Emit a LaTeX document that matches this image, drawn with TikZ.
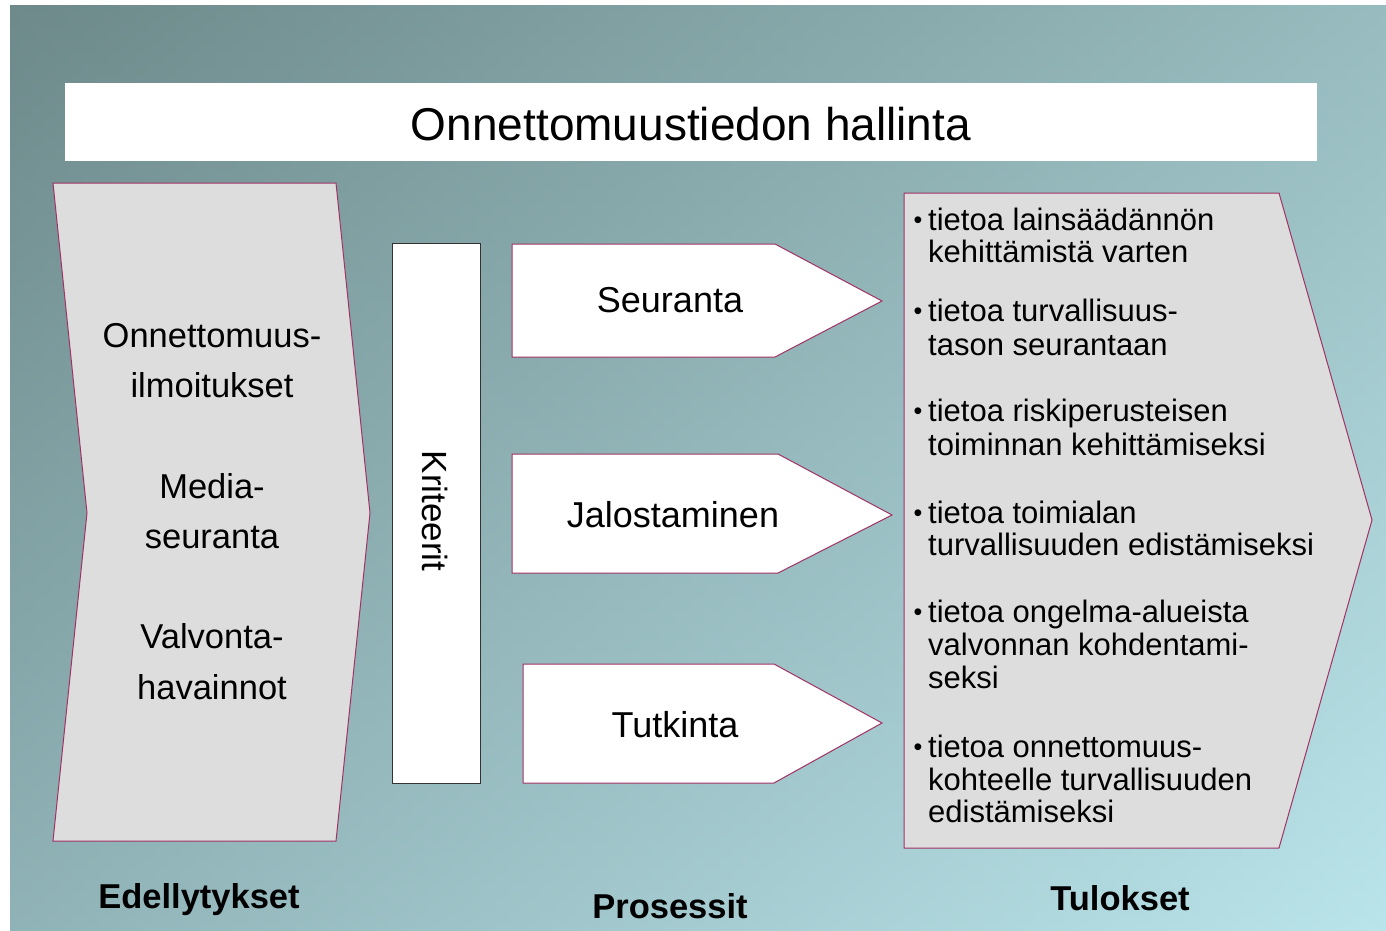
\documentclass[tikz,border=0pt]{standalone}
\usepackage{fontspec}
\setmainfont{Liberation Sans}
\definecolor{bgA}{RGB}{110,138,139}
\definecolor{bgH}{RGB}{194,238,243}
\definecolor{bgV}{RGB}{178,220,227}
\definecolor{chevgray}{RGB}{221,221,221}
\definecolor{edgepurple}{RGB}{160,50,100}
\begin{document}
\begin{tikzpicture}[x=1pt,y=-1pt,
  chev/.style={fill=chevgray, draw=edgepurple, line width=1pt, line join=miter},
  proc/.style={fill=white, draw=edgepurple, line width=1pt},
  lefttxt/.style={anchor=base, inner sep=0pt, font=\fontsize{34.5}{40}\selectfont},
  proctxt/.style={anchor=base, inner sep=0pt, font=\fontsize{36}{40}\selectfont},
  listtxt/.style={anchor=base west, inner sep=0pt, font=\fontsize{31}{33}\selectfont},
  bul/.style={anchor=base, inner sep=0pt, font=\fontsize{25}{25}\selectfont},
  foot/.style={anchor=base, inner sep=0pt, font=\fontsize{34.5}{40}\selectfont\bfseries}]
\useasboundingbox (0,0) rectangle (1386,931);
\fill[white] (0,0) rectangle (1386,931);
\shade[left color=bgA, right color=bgH] (10,6) rectangle (1386,931);
\shade[top color=bgA, bottom color=bgV, opacity=0.5] (10,6) rectangle (1386,931);
% title
\node[fill=white, inner sep=0pt, minimum width=1252pt, minimum height=78pt] (titlebox) at (691,122) {};
\node[anchor=base, inner sep=0pt, font=\fontsize{46}{50}\selectfont] (title) at (691,140) {Onnettomuustiedon hallinta};
% left chevron
\draw[chev] (53,183) -- (336,183) -- (370,513) -- (336,841) -- (53,841) -- (87,513) -- cycle;
\node[lefttxt] (l1) at (212,347) {Onnettomuus-};
\node[lefttxt] (l2) at (212,397) {ilmoitukset};
\node[lefttxt] (l3) at (212,498) {Media-};
\node[lefttxt] (l4) at (212,548) {seuranta};
\node[lefttxt] (l5) at (212,648) {Valvonta-};
\node[lefttxt] (l6) at (212,699) {havainnot};
% criteria bar
\draw[fill=white, draw=black!80, line width=1pt] (392,243) rectangle (480,783);
\node[rotate=-90, inner sep=0pt, font=\fontsize{35}{40}\selectfont] (krit) at (435,511) {Kriteerit};
% process arrows
\draw[proc] (512,244) -- (775,244) -- (882,301) -- (775,357) -- (512,357) -- cycle;
\node[proctxt] (seur) at (670,312) {Seuranta};
\draw[proc] (512,454) -- (778,454) -- (892,515) -- (778,573) -- (512,573) -- cycle;
\node[proctxt] (jalo) at (673,527) {Jalostaminen};
\draw[proc] (523,664) -- (774,664) -- (882,723) -- (774,783) -- (523,783) -- cycle;
\node[proctxt] (tutk) at (675,737) {Tutkinta};
% right chevron
\draw[chev] (904,193) -- (1279,193) -- (1372,520) -- (1279,848) -- (904,848) -- cycle;
\foreach \yy/\ww in {230/tietoa lainsäädännön, 262/kehittämistä varten,
  321/tietoa turvallisuus-, 355/tason seurantaan,
  421/tietoa riskiperusteisen, 455/toiminnan kehittämiseksi,
  523/tietoa toimialan, 555/turvallisuuden edistämiseksi,
  622/tietoa ongelma-alueista, 655/valvonnan kohdentami-, 688/seksi,
  757/tietoa onnettomuus-, 790/kohteelle turvallisuuden, 822/edistämiseksi}
  \node[listtxt] (r\yy) at (928,\yy) {\ww};
\foreach \yy in {230,321,421,523,622,757}
  \node[bul] (b\yy) at (918,\yy-2) {•};
% footers
\node[foot] (f1) at (199,908) {Edellytykset};
\node[foot] (f2) at (670,918) {Prosessit};
\node[foot] (f3) at (1120,910) {Tulokset};
\end{tikzpicture}
\end{document}
